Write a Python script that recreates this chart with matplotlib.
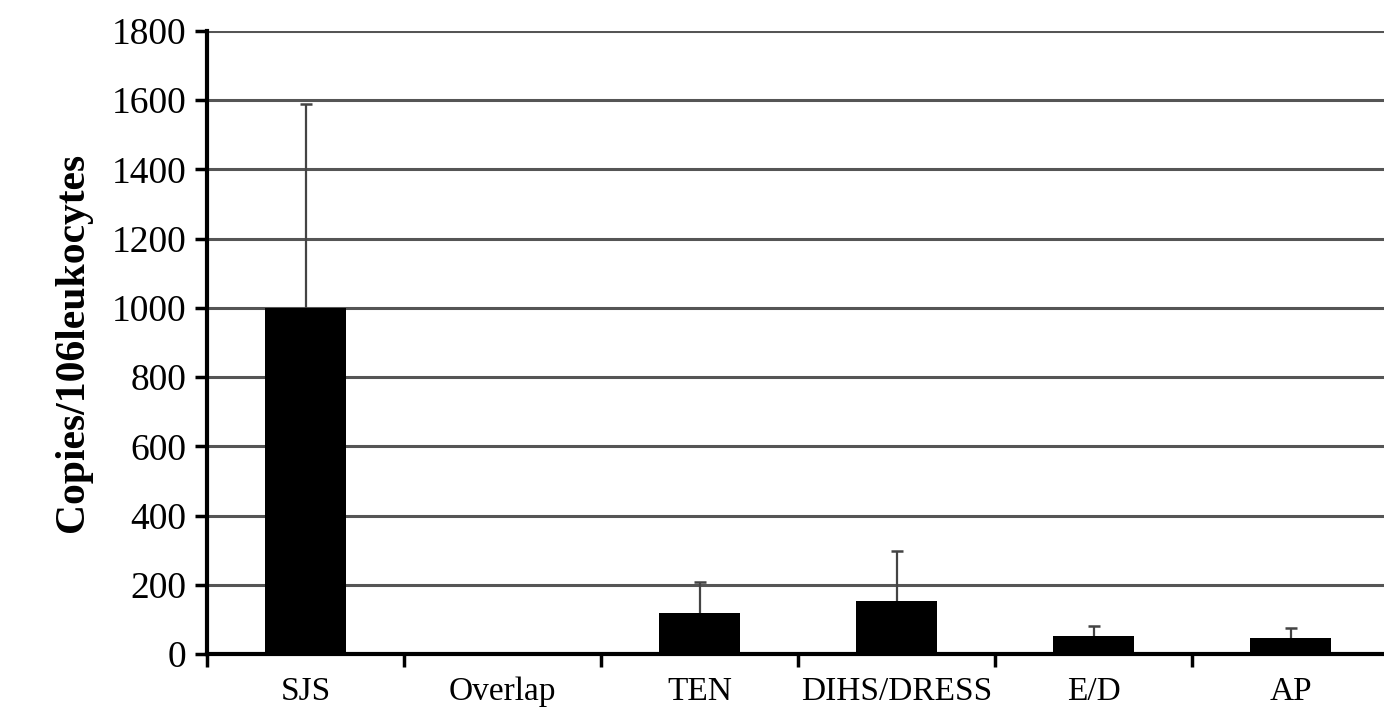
import numpy as np
import matplotlib.pyplot as plt

# values
categories = ["SJS", "Overlap", "TEN", "DIHS/DRESS", "E/D", "AP"]
means = [1000, 0, 118, 152, 51, 45]
upper_err = [590, 0, 89, 147, 29, 29]
yticks = [0, 200, 400, 600, 800, 1000, 1200, 1400, 1600, 1800]

plt.rcParams["font.family"] = ["Liberation Serif", "DejaVu Serif"]

fig = plt.figure(figsize=(13.84, 7.22), dpi=100)
ax = fig.add_axes([207 / 1384, 68 / 722, 1182 / 1384, 623 / 722])

x = np.arange(len(categories))
ax.bar(x, means, width=0.41, color="black", zorder=3)

# upper error bars only, skip categories without an error
err = np.array(upper_err)
has_err = err > 0
_, caps, _ = ax.errorbar(x[has_err], np.array(means)[has_err],
                         yerr=[np.zeros(has_err.sum()), err[has_err]], fmt="none",
                         ecolor="#444444", elinewidth=1.6, capsize=4, capthick=1.8,
                         zorder=4)
caps[0].set_visible(False)

ax.set_xlim(-0.5, len(categories) - 0.5)
ax.set_ylim(0, 1800)
ax.set_yticks(yticks)
ax.yaxis.grid(True, color="#555555", linewidth=2.2, zorder=1)
ax.set_axisbelow(True)

# category labels centred, ticks at the boundaries
ax.set_xticks(x)
ax.set_xticklabels(categories, fontsize=24)
ax.tick_params(axis="x", which="major", length=0, pad=16)
ax.set_xticks(np.arange(len(categories) + 1) - 0.5, minor=True)
ax.tick_params(axis="x", which="minor", length=9, width=2.5, direction="out")
ax.tick_params(axis="y", labelsize=27, length=9, width=2.5, direction="out", pad=6)

for side in ["top", "right"]:
    ax.spines[side].set_visible(False)
ax.spines["left"].set_linewidth(3)
ax.spines["bottom"].set_linewidth(3)

ax.set_ylabel("Copies/106leukocytes", fontsize=30, fontweight="bold", labelpad=14)

fig.savefig("out.png", dpi=100)
